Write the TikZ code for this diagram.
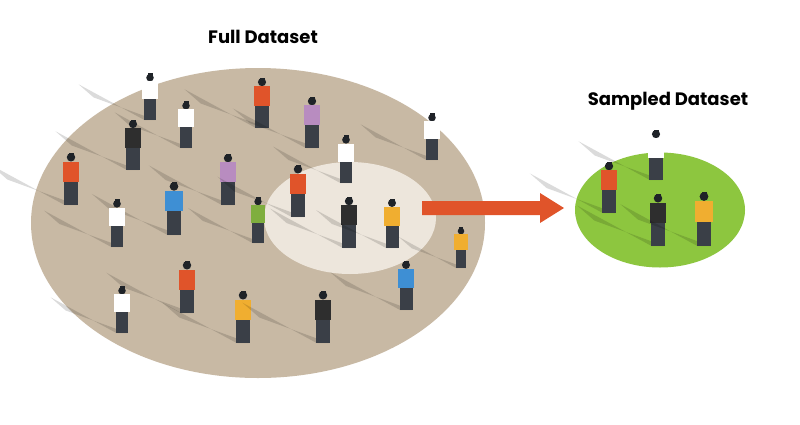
\documentclass[tikz,border=0pt]{standalone}
\usepackage{fontspec}
\setmainfont{Poppins}
\usetikzlibrary{shapes.geometric}
\definecolor{brownbg}{HTML}{C8B9A4}
\definecolor{inner}{HTML}{EDE6DC}
\definecolor{greenbg}{HTML}{8DC63F}
\definecolor{arrowc}{HTML}{E0542A}
\definecolor{pred}{HTML}{E0542A}
\definecolor{pwhite}{HTML}{FFFFFF}
\definecolor{ppurple}{HTML}{B88CC0}
\definecolor{pblue}{HTML}{3E8FD4}
\definecolor{pgreen}{HTML}{7FAE3E}
\definecolor{pyellow}{HTML}{F0AE30}
\definecolor{pblack}{HTML}{2E2E2E}
\definecolor{legs}{HTML}{3A3F47}
\definecolor{hair}{HTML}{1F2328}
\newcommand{\prs}[4]{% x, top y, bottom y, colour
 \begin{scope}[shift={(#1,#2)},yscale={(#3-#2)/50},xscale={(#3-#2)/50}]
  \fill[black,opacity=0.14] (-6,50) -- (6,50) -- (-60,26) -- (-76,12) -- cycle;
  \fill[hair] (0,5) circle (4);
  \fill[hair] (-2,0.5) rectangle (3,3);
  \fill[#4] (-8,9) rectangle (8,28);
  \fill[legs] (-6.5,28) rectangle (6.5,50);
 \end{scope}}
\begin{document}
\begin{tikzpicture}[x=1pt,y=-1pt,
  ttl/.style={font=\bfseries\fontsize{18}{21}\selectfont,text=black}]
\useasboundingbox (0,0) rectangle (800,424);
\fill[white] (0,0) rectangle (800,424);
\node[ellipse,minimum width=454,minimum height=310,fill=brownbg,inner sep=0] (full) at (258,223) {};
\node[ellipse,minimum width=172,minimum height=112,fill=inner,inner sep=0] (sub) at (350,218) {};
\node[ellipse,minimum width=170,minimum height=115,fill=greenbg,inner sep=0] (samp) at (660,210) {};
\node[ttl] (t1) at (263,37) {Full Dataset};
\node[ttl] (t2) at (668,101) {Sampled Dataset};
\fill[arrowc] (422,201) -- (540,201) -- (540,193) -- (564,208) -- (540,223) -- (540,215) -- (422,215) -- cycle;
\prs{150}{73}{120}{pwhite}
\prs{262}{77}{128}{pred}
\prs{312}{96}{148}{ppurple}
\prs{186}{101}{148}{pwhite}
\prs{133}{119}{170}{pblack}
\prs{432}{113}{160}{pwhite}
\prs{346}{135}{183}{pwhite}
\prs{71}{152}{205}{pred}
\prs{228}{153}{205}{ppurple}
\prs{298}{164}{217}{pred}
\prs{174}{181}{235}{pblue}
\prs{117}{199}{247}{pwhite}
\prs{258}{197}{243}{pgreen}
\prs{349}{196}{248}{pblack}
\prs{392}{198}{248}{pyellow}
\prs{461}{227}{268}{pyellow}
\prs{406}{260}{310}{pblue}
\prs{187}{260}{313}{pred}
\prs{122}{286}{333}{pwhite}
\prs{243}{290}{343}{pyellow}
\prs{323}{290}{343}{pblack}
\prs{656}{129}{180}{pwhite}
\prs{609}{161}{213}{pred}
\prs{658}{193}{246}{pblack}
\prs{704}{191}{246}{pyellow}
\end{tikzpicture}
\end{document}
